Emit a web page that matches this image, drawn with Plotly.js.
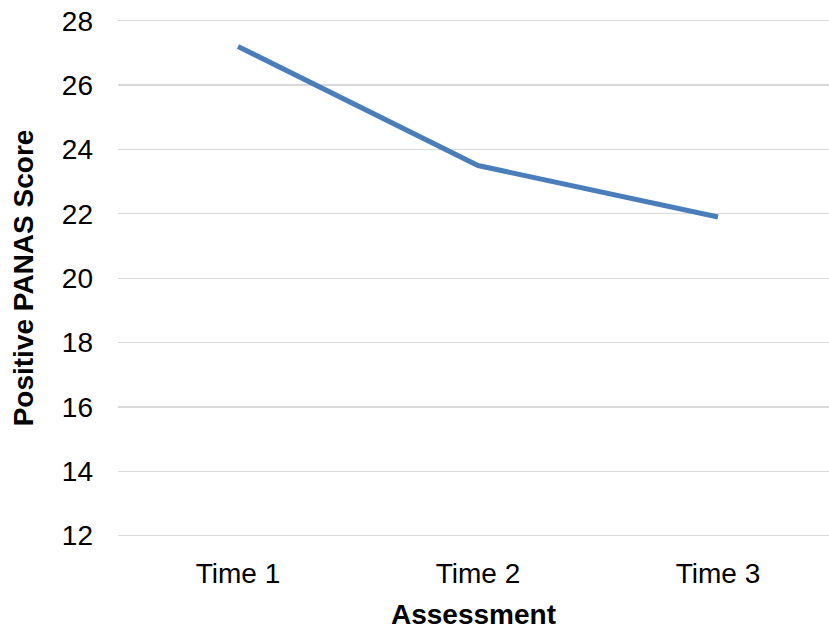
<!DOCTYPE html>
<html>
<head>
<meta charset="utf-8">
<script src="https://cdn.plot.ly/plotly-3.0.1.min.js"></script>
<style>html,body{margin:0;padding:0;background:#fff;}#chart{width:829px;height:630px;}</style>
</head>
<body>
<div id="chart"></div>
<script>
const categories = ["Time 1", "Time 2", "Time 3"];
const positivePanas = [27.2, 23.5, 21.9];
const yTicks = [12, 14, 16, 18, 20, 22, 24, 26, 28];

const font = "Liberation Sans, Arial, sans-serif";
Plotly.newPlot("chart", [{
  x: categories,
  y: positivePanas,
  type: "scatter",
  mode: "lines",
  line: {color: "#4a7ebb", width: 5},
  hoverinfo: "skip"
}], {
  width: 829, height: 630,
  margin: {l: 118, r: 0, t: 17, b: 91},
  paper_bgcolor: "#fff", plot_bgcolor: "#fff",
  showlegend: false,
  font: {family: font, size: 28, color: "#000"},
  xaxis: {
    type: "category",
    range: [-0.5, 2.4625],
    showgrid: false, zeroline: false, showline: false, ticks: "",
    ticklabelstandoff: 15,
    tickfont: {family: font, size: 28, color: "#000"},
    title: {text: "<b>Assessment</b>", font: {family: font, size: 28, color: "#000"}, standoff: 22}
  },
  yaxis: {
    range: [11.897, 28.115],
    tickvals: yTicks,
    ticktext: yTicks.map(String),
    showgrid: true, gridcolor: "#d9d9d9", gridwidth: 1.3,
    zeroline: false, showline: false, ticks: "",
    ticklabelstandoff: 24,
    tickfont: {family: font, size: 28, color: "#000"},
    title: {text: "<b>Positive PANAS Score</b>", font: {family: font, size: 28, color: "#000"}, standoff: 20}
  }
}, {displayModeBar: false, staticPlot: true});
</script>
</body>
</html>
